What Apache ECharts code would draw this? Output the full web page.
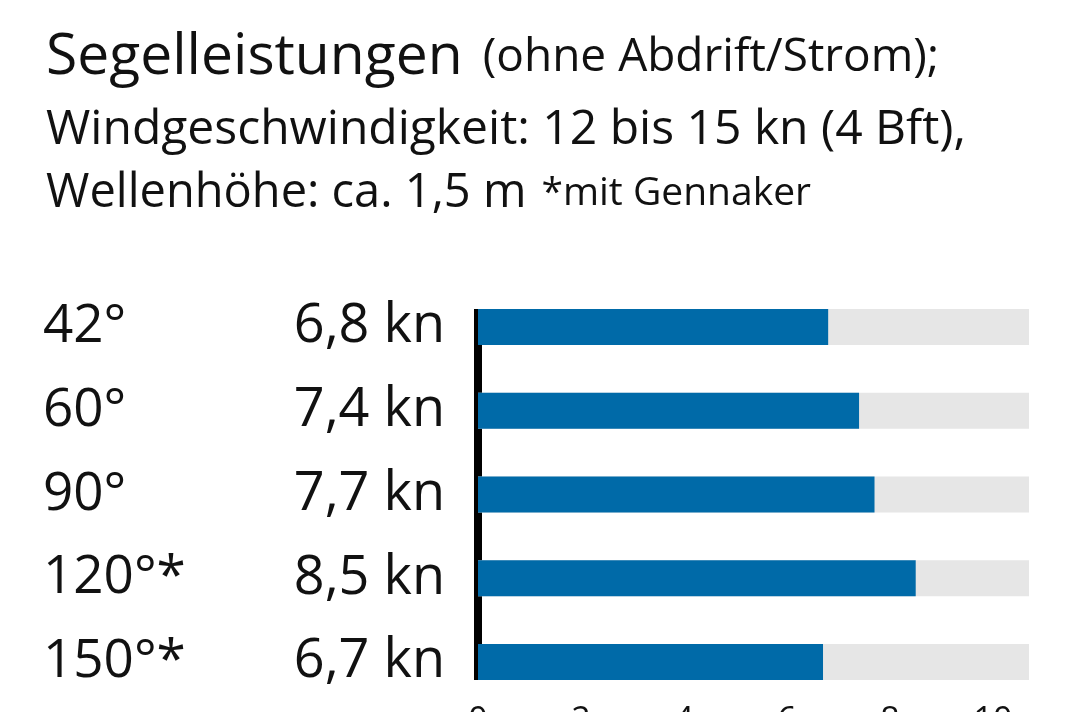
<!DOCTYPE html>
<html>
<head>
<meta charset="utf-8">
<script src="https://cdn.jsdelivr.net/npm/echarts@6/dist/echarts.min.js"></script>
<style>
html,body{margin:0;padding:0;background:#fff;}
#c{width:1068px;height:712px;}
</style>
</head>
<body>
<div id="c"></div>
<script>
const categories = ['42°', '60°', '90°', '120°*', '150°*'];
const speeds = [6.8, 7.4, 7.7, 8.5, 6.7];
const axisMax = 10.7;
const tickLabels = ['0', '2', '4', '6', '8', '10'];

const FONT = 'Open Sans';
const chart = echarts.init(document.getElementById('c'), null, {renderer: 'canvas'});
chart.setOption({
  backgroundColor: '#ffffff',
  animation: false,
  title: [
    {
      left: 41, top: 24,
      text: '{a|Segelleistungen} {b|(ohne Abdrift/Strom);}',
      textStyle: {
        fontWeight: 'normal',
        rich: {
          a: {fontFamily: FONT, fontSize: 57, fontWeight: 'normal', color: '#111'},
          b: {fontFamily: FONT, fontSize: 46, fontWeight: 'normal', color: '#111', padding: [0, 0, 0, 15]}
        }
      }
    },
    {
      left: 41, top: 101,
      text: 'Windgeschwindigkeit: 12 bis 15 kn (4 Bft),',
      textStyle: {fontFamily: FONT, fontSize: 48, fontWeight: 'normal', color: '#111'}
    },
    {
      left: 41, top: 165,
      text: '{b|Wellenhöhe: ca. 1,5 m} {c|*mit Gennaker}',
      textStyle: {
        fontWeight: 'normal',
        rich: {
          b: {fontFamily: FONT, fontSize: 47, fontWeight: 'normal', color: '#111'},
          c: {fontFamily: FONT, fontSize: 39, fontWeight: 'normal', color: '#111', padding: [0, 0, 0, 10]}
        }
      }
    }
  ],
  grid: {left: 478, right: 39, top: 327, bottom: 50, containLabel: false, outerBoundsMode: 'none'},
  xAxis: {
    type: 'value',
    min: 0,
    max: axisMax,
    interval: 2,
    axisLine: {show: false},
    axisTick: {show: false},
    splitLine: {show: false},
    axisLabel: {
      show: true,
      showMaxLabel: false,
      margin: 42,
      fontFamily: FONT,
      fontSize: 34,
      color: '#111',
      formatter: function (v) {
        const i = Math.round(v / 2);
        return tickLabels[i] !== undefined ? tickLabels[i] : '';
      }
    }
  },
  yAxis: {
    type: 'category',
    data: categories,
    inverse: true,
    boundaryGap: false,
    offset: 4,
    axisLine: {
      show: true,
      lineStyle: {color: '#000', width: 8},
      symbol: ['rect', 'rect'],
      symbolSize: [8, 36]
    },
    axisTick: {show: false},
    splitLine: {show: false},
    axisLabel: {
      show: true,
      align: 'left',
      margin: 431,
      fontFamily: FONT,
      fontSize: 53,
      color: '#111'
    }
  },
  series: [{
    type: 'bar',
    data: speeds,
    barWidth: 36,
    clip: false,
    itemStyle: {color: '#006aa8'},
    showBackground: true,
    backgroundStyle: {color: '#e6e6e6'},
    label: {
      show: true,
      position: 'left',
      distance: 33,
      fontFamily: FONT,
      fontSize: 54,
      color: '#111',
      formatter: function (p) { return String(p.value).replace('.', ',') + ' kn'; }
    }
  }]
});
</script>
</body>
</html>
